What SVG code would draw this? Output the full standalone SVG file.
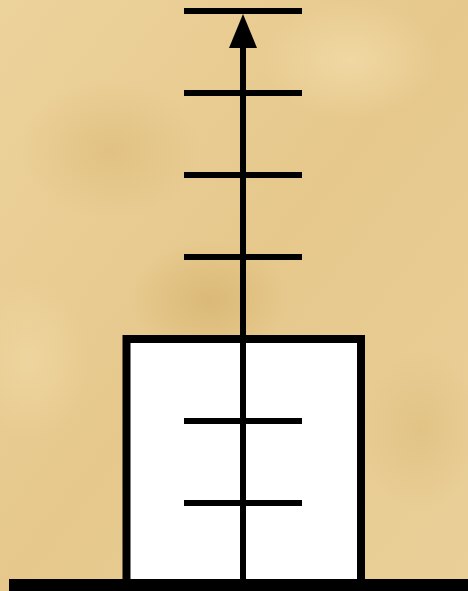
<svg xmlns="http://www.w3.org/2000/svg" width="468" height="591" viewBox="0 0 468 591">
  <defs>
    <style>
      .tick { stroke: #000; stroke-width: 6; }
      .shaft { stroke: #000; stroke-width: 6; }
      .box { fill: #fff; stroke: #000; stroke-width: 8; }
      .ground { stroke: #000; stroke-width: 12; }
    </style>
    <linearGradient id="bg" x1="0" y1="0" x2="1" y2="1">
      <stop offset="0" stop-color="#ecd29b"/>
      <stop offset="0.5" stop-color="#e6c88c"/>
      <stop offset="1" stop-color="#e9cf98"/>
    </linearGradient>
    <radialGradient id="dark1" cx="0.5" cy="0.5" r="0.5">
      <stop offset="0" stop-color="#d8b672" stop-opacity="0.8"/>
      <stop offset="1" stop-color="#d8b672" stop-opacity="0"/>
    </radialGradient>
    <radialGradient id="light1" cx="0.5" cy="0.5" r="0.5">
      <stop offset="0" stop-color="#f2dba8" stop-opacity="0.8"/>
      <stop offset="1" stop-color="#f2dba8" stop-opacity="0"/>
    </radialGradient>
  </defs>
  <g id="background">
    <rect width="468" height="591" fill="url(#bg)"/>
    <ellipse cx="210" cy="300" rx="80" ry="60" fill="url(#dark1)"/>
    <ellipse cx="110" cy="150" rx="90" ry="70" fill="url(#dark1)" opacity="0.6"/>
    <ellipse cx="350" cy="60" rx="90" ry="60" fill="url(#light1)"/>
    <ellipse cx="30" cy="360" rx="60" ry="80" fill="url(#light1)" opacity="0.7"/>
    <ellipse cx="420" cy="430" rx="60" ry="80" fill="url(#dark1)" opacity="0.5"/>
  </g>
  <g id="box">
    <rect class="box" x="126.5" y="339" width="234.5" height="250"/>
  </g>
  <g id="ground">
    <line class="ground" x1="9" y1="585" x2="468" y2="585"/>
  </g>
  <g id="connectors">
    <line class="shaft" x1="243" y1="585" x2="243" y2="46"/>
    <polygon points="243,14 229,48 257,48" fill="#000"/>
  </g>
  <g id="ticks">
    <line class="tick" x1="184" y1="11" x2="302" y2="11"/>
    <line class="tick" x1="184" y1="93" x2="302" y2="93"/>
    <line class="tick" x1="184" y1="175" x2="302" y2="175"/>
    <line class="tick" x1="184" y1="257" x2="302" y2="257"/>
    <line class="tick" x1="184" y1="421" x2="302" y2="421"/>
    <line class="tick" x1="184" y1="503" x2="302" y2="503"/>
  </g>
</svg>
